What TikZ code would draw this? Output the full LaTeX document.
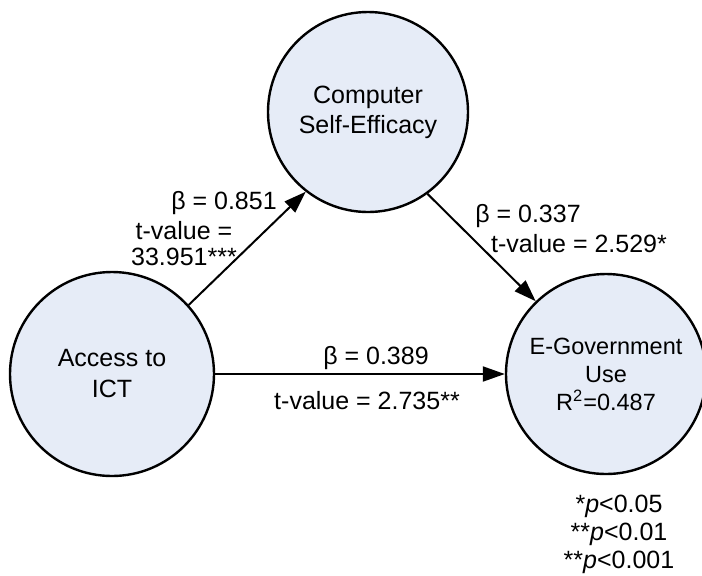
\documentclass[tikz,border=0pt]{standalone}
\usepackage{fontspec}
\setmainfont{Liberation Sans}
\usetikzlibrary{arrows.meta,positioning}
\definecolor{latentfill}{RGB}{230,236,247}
\tikzset{
  latent/.style={draw=black,line width=1.2pt,fill=latentfill,circle,inner sep=0pt,align=center},
  path/.style={line width=1pt,-{Triangle[length=11pt,width=7.5pt]}},
  lbl/.style={inner sep=0pt,align=center}
}
\newcommand{\txt}{\fontsize{12.5}{15}\selectfont}
\begin{document}
\begin{tikzpicture}[x=0.5pt,y=-0.5pt,font=\txt]
    \useasboundingbox (0,0) rectangle (702,575);
    \node[latent,minimum size=100pt,font=\fontsize{12.5}{15}\selectfont] (cse) at (368,112) {Computer\\Self-Efficacy};
    \node[latent,minimum size=102pt,font=\fontsize{12.5}{15.5}\selectfont] (ict) at (112,374) {Access to\\ICT};
    \node[latent,minimum size=100pt,font=\fontsize{11.75}{14}\selectfont] (egov) at (606,374) {E-Government\\Use\\R\textsuperscript{2}=0.487};

    \draw[path] (ict.42) -- (cse.232);
    \draw[path] (cse.306) -- (egov.134);
    \draw[path] (ict) -- (egov);

    \node[lbl] (b1) at (224,203) {β = 0.851};
    \node[lbl,font=\fontsize{12.5}{13}\selectfont] (t1) at (184,244) {t-value =\\33.951***};
    \node[lbl] (b2) at (528,216) {β = 0.337};
    \node[lbl] (t2) at (579,244) {t-value = 2.529*};
    \node[lbl] (b3) at (376,358) {β = 0.389};
    \node[lbl] (t3) at (367,401) {t-value = 2.735**};

    \node[lbl,font=\fontsize{12.5}{14}\selectfont] (sig) at (619,534) {*\textit{p}<0.05\\**\textit{p}<0.01\\**\textit{p}<0.001};
\end{tikzpicture}
\end{document}
